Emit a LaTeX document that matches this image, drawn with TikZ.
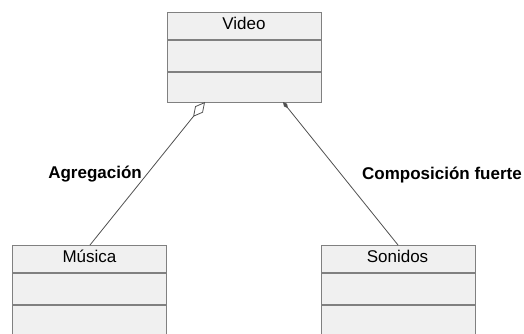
\documentclass[tikz,border=0pt]{standalone}
\usepackage{fontspec}
\setmainfont{Liberation Sans}
\usetikzlibrary{arrows.meta}
\definecolor{boxfill}{HTML}{F0F0F0}
\definecolor{boxline}{HTML}{808080}
\definecolor{conn}{HTML}{505050}
\begin{document}
\begin{tikzpicture}[x=1pt,y=-1pt,
  classbox/.style={draw=boxline, fill=boxfill, line width=1.2pt, rectangle, inner sep=0pt,
    minimum width=154pt, minimum height=90pt, anchor=north west},
  classname/.style={font=\fontsize{17}{20}\selectfont, anchor=base, inner sep=0pt},
  seprule/.style={draw=boxline, line width=1.2pt},
  connline/.style={draw=conn, line width=0.8pt},
  rolelabel/.style={font=\fontsize{17}{20}\selectfont\bfseries, anchor=base east, inner sep=0pt}]
\useasboundingbox (0,0) rectangle (524,333);
\clip (0,0) rectangle (524,333);
% classes
\node[classbox] (video) at (167,12) {};
\node[classbox] (musica) at (12,245) {};
\node[classbox] (sonidos) at (321,245) {};
% separators
\draw[seprule] ([yshift=-28pt]video.north west) -- ([yshift=-28pt]video.north east);
\draw[seprule] ([yshift=-60pt]video.north west) -- ([yshift=-60pt]video.north east);
\draw[seprule] ([yshift=-28pt]musica.north west) -- ([yshift=-28pt]musica.north east);
\draw[seprule] ([yshift=-60pt]musica.north west) -- ([yshift=-60pt]musica.north east);
\draw[seprule] ([yshift=-28pt]sonidos.north west) -- ([yshift=-28pt]sonidos.north east);
\draw[seprule] ([yshift=-60pt]sonidos.north west) -- ([yshift=-60pt]sonidos.north east);
% names
\node[classname] (tvideo) at (244,29) {Video};
\node[classname] (tmusica) at (89.5,262.5) {Música};
\node[classname] (tsonidos) at (397.5,262.5) {Sonidos};
% connector end points
\coordinate (vagg) at (205,102);
\coordinate (magg) at (90,245);
\coordinate (vcomp) at (283,102);
\coordinate (scomp) at (398,245);
\draw[connline, {Diamond[open, length=19pt, width=10pt, line width=0.8pt]}-] (vagg) -- (magg);
\draw[connline, {Diamond[length=8pt, width=4pt]}-] (vcomp) -- (scomp);
% labels
\node[rolelabel] (lagg) at (142,178) {Agregación};
\node[rolelabel] (lcomp) at (522,179) {Composición fuerte};
\end{tikzpicture}
\end{document}
